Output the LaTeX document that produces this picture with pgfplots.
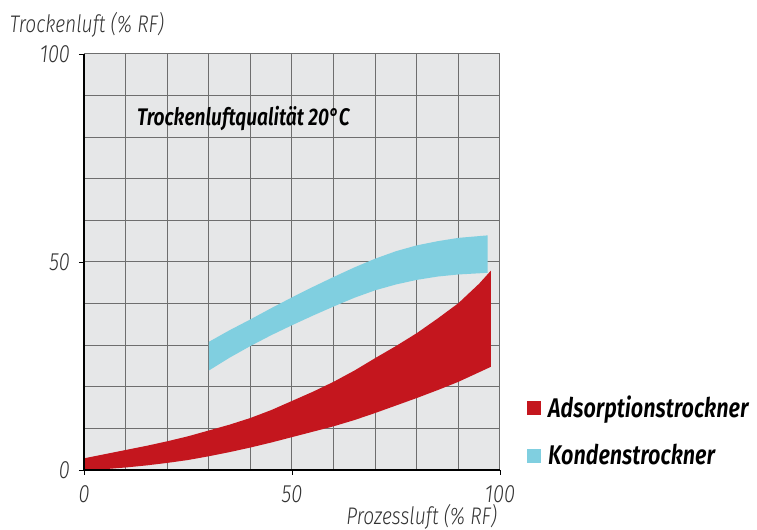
\documentclass[border=0pt]{standalone}
\usepackage{fontspec}
\setmainfont{Fira Sans}[FakeStretch=0.8]
\newfontfamily\lightit{Fira Sans Light Italic}[FakeStretch=0.8]
\newfontfamily\semiit{Fira Sans SemiBold Italic}[FakeStretch=0.8]
\usepackage{pgfplots}
\pgfplotsset{compat=1.18}
\definecolor{bgc}{HTML}{E6E7E8}
\definecolor{gridc}{HTML}{6E6E6E}
\definecolor{redc}{HTML}{C4161E}
\definecolor{bluec}{HTML}{80CFE0}
\begin{document}
\begin{tikzpicture}
\useasboundingbox (-42pt,-30pt) rectangle (336.5pt,235pt);
\begin{axis}[
  at={(0,0)}, anchor=south west,
  width=208pt, height=208pt, scale only axis,
  xmin=0, xmax=100, ymin=0, ymax=100,
  axis background/.style={fill=bgc},
  xtick={0,50,100}, ytick={0,50,100},
  minor xtick={10,20,30,40,60,70,80,90},
  minor ytick={10,20,30,40,60,70,80,90},
  grid=both,
  major grid style={gridc, line width=0.5pt},
  minor grid style={gridc, line width=0.5pt},
  axis line style={draw=none},
  tick align=outside,
  major tick length=2.5pt, minor tick length=0pt,
  tick style={black, line width=0.4pt},
  xtick pos=bottom, ytick pos=left,
  ticklabel style={font=\lightit\fontsize{12.5}{12.5}\selectfont, text=black!80},
  /pgf/number format/assume math mode=true,
  xticklabel style={yshift=-2pt},
  yticklabel style={xshift=-1pt},
  xlabel={Prozessluft (\% RF)},
  ylabel={Trockenluft (\% RF)},
  every axis x label/.style={at={(rel axis cs:1.01,-0.113)}, anchor=east, font=\lightit\fontsize{12}{12}\selectfont, text=black!80},
  every axis y label/.style={at={(rel axis cs:-0.195,1.07)}, anchor=west, font=\lightit\fontsize{12}{12}\selectfont, text=black!80},
  legend style={at={(rel axis cs:1.065,0.0925)}, anchor=west, draw=none, fill=none,
    inner sep=0pt, row sep=8pt, font=\semiit\fontsize{13.5}{13.5}\selectfont,
    /tikz/every even column/.append style={column sep=0pt},
    nodes={inner xsep=3.5pt}},
  legend cell align=left,
  clip=false,
]
% Kondenstrockner band
\addplot[draw=none, fill=bluec, forget plot] coordinates {
 (30,30.8) (35,33.6) (40,36.2) (45,38.9) (50,41.5) (55,44.0) (60,46.4) (65,48.7) (70,50.8) (75,52.6) (80,54.0) (85,55.0) (90,55.8) (97,56.4)
 (97,47.4) (90,47.0) (85,46.5) (80,45.7) (75,44.6) (70,43.2) (65,41.4) (60,39.3) (55,37.1) (50,34.8) (45,32.4) (40,29.8) (35,27.0) (30,23.9)
} -- cycle;
% Adsorptionstrockner band
\addplot[draw=none, fill=redc, forget plot] coordinates {
 (0,2.8) (5,3.8) (10,4.8) (15,5.8) (20,6.9) (25,8.1) (30,9.5) (35,10.9) (40,12.5) (45,14.4) (50,16.6) (55,18.8) (60,21.2) (65,23.9) (70,26.9) (75,29.8) (80,32.9) (85,36.4) (90,40.1) (95,44.8) (97.8,47.9)
 (97.8,24.8) (95,23.5) (90,21.2) (85,19.2) (80,17.3) (75,15.5) (70,13.7) (65,12.0) (60,10.5) (55,9.2) (50,7.9) (45,6.6) (40,5.4) (35,4.3) (30,3.3) (25,2.4) (20,1.7) (15,1.1) (10,0.6) (5,0.2) (0,0)
} -- cycle;
% axis lines
\draw[black, line width=1.1pt] (rel axis cs:0,1) -- (rel axis cs:0,0) -- (rel axis cs:1,0);
\addlegendimage{legend image code/.code={\fill[redc] (0pt,-3.25pt) rectangle (6.5pt,3.25pt);}}
\addlegendentry{Adsorptionstrockner}
\addlegendimage{legend image code/.code={\fill[bluec] (0pt,-3.25pt) rectangle (6.5pt,3.25pt);}}
\addlegendentry{Kondenstrockner}
\node[anchor=west, inner sep=0pt, font=\semiit\fontsize{12}{12}\selectfont] at (axis cs:12.7,84.6) {Trockenluftqualität 20°C};
\end{axis}
\end{tikzpicture}
\end{document}
